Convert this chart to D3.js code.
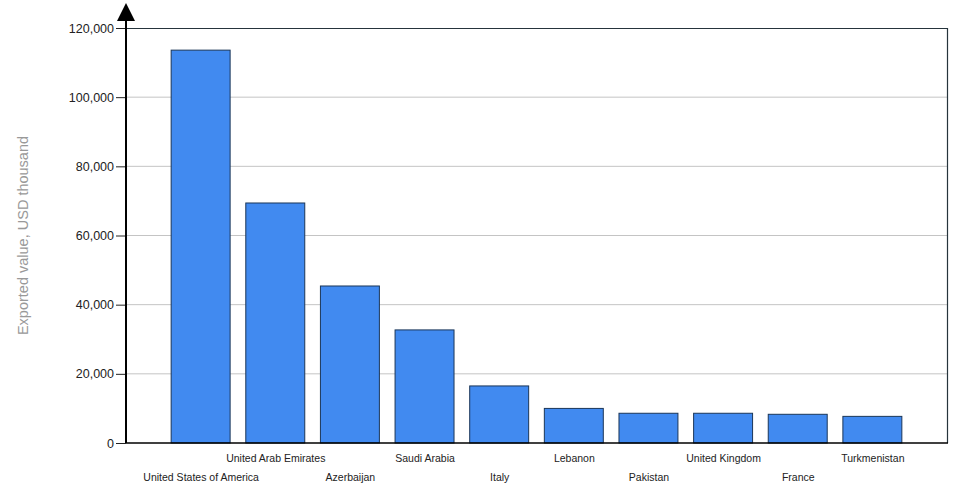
<!DOCTYPE html>
<html>
<head>
<meta charset="utf-8">
<script src="https://cdn.jsdelivr.net/npm/d3@7"></script>
<style>
  body { margin: 0; background: #fff; }
  svg { display: block; font-family: "Liberation Sans", Arial, sans-serif; }
</style>
</head>
<body>
<div id="chart"></div>
<script>
var countries = ["United States of America", "United Arab Emirates", "Azerbaijan", "Saudi Arabia", "Italy",
                 "Lebanon", "Pakistan", "United Kingdom", "France", "Turkmenistan"];
var exported = [113600, 69400, 45400, 32700, 16500, 10000, 8600, 8600, 8300, 7700];
var yTicks = [0, 20000, 40000, 60000, 80000, 100000, 120000];
var yTitle = "Exported value, USD thousand";

var width = 969, height = 499;
var margin = { top: 28, right: 22, bottom: 56, left: 126 };
var innerW = width - margin.left - margin.right;
var innerH = height - margin.top - margin.bottom;

var svg = d3.select("#chart").append("svg").attr("width", width).attr("height", height);
var g = svg.append("g").attr("transform", "translate(" + margin.left + "," + margin.top + ")");

var x = d3.scalePoint().domain(countries).range([0, innerW]).padding(1);
var y = d3.scaleLinear().domain([0, 120000]).range([innerH, 0]);
var barW = x.step() * 0.79;

// grid
g.append("g")
    .selectAll("line")
    .data(yTicks.slice(1, -1))
    .enter().append("line")
    .attr("x1", 0).attr("x2", innerW)
    .attr("y1", function (d) { return y(d); })
    .attr("y2", function (d) { return y(d); })
    .attr("stroke", "#c4c4c4");

// frame top / right
g.append("path")
    .attr("d", "M0,0.5H" + (innerW + 0.5) + "V" + innerH)
    .attr("fill", "none")
    .attr("stroke", "#26343c")
    .attr("stroke-width", 1.2);

// bars
g.selectAll("rect.bar")
    .data(exported)
    .enter().append("rect")
    .attr("class", "bar")
    .attr("x", function (d, i) { return x(countries[i]) - barW / 2; })
    .attr("y", function (d) { return y(d); })
    .attr("width", barW)
    .attr("height", function (d) { return innerH - y(d); })
    .attr("fill", "#418af0")
    .attr("stroke", "#1b3658")
    .attr("stroke-width", 1);

// y axis
var yAxis = d3.axisLeft(y).tickValues(yTicks).tickSize(10).tickSizeOuter(0).tickFormat(d3.format(","));
var ya = g.append("g").call(yAxis);
ya.select(".domain").remove();
ya.selectAll(".tick line").attr("stroke", "#222");
ya.selectAll(".tick text").attr("fill", "#222").attr("font-size", 12.5).attr("x", -12);

g.append("line")
    .attr("x1", 0).attr("x2", 0)
    .attr("y1", -10).attr("y2", innerH)
    .attr("stroke", "#000").attr("stroke-width", 2);

g.append("path")
    .attr("d", "M0,-25L9,-7L-9,-7Z")
    .attr("fill", "#000");

// x baseline
g.append("line")
    .attr("x1", 0).attr("x2", innerW + 1)
    .attr("y1", innerH).attr("y2", innerH)
    .attr("stroke", "#000").attr("stroke-width", 1.5);

// category labels, staggered
var xAxis = d3.axisBottom(x).tickSize(0);
var xa = g.append("g").attr("transform", "translate(0," + innerH + ")").call(xAxis);
xa.select(".domain").remove();
xa.selectAll(".tick text")
    .attr("fill", "#222")
    .attr("font-size", 10.5)
    .attr("y", function (d, i) { return i % 2 === 1 ? 12 : 31; })
    .attr("dy", "0.71em");

// y title
svg.append("text")
    .attr("transform", "translate(28," + (margin.top + innerH / 2) + ") rotate(-90)")
    .attr("text-anchor", "middle")
    .attr("fill", "#999")
    .attr("font-size", 14.5)
    .text(yTitle);
</script>
</body>
</html>
